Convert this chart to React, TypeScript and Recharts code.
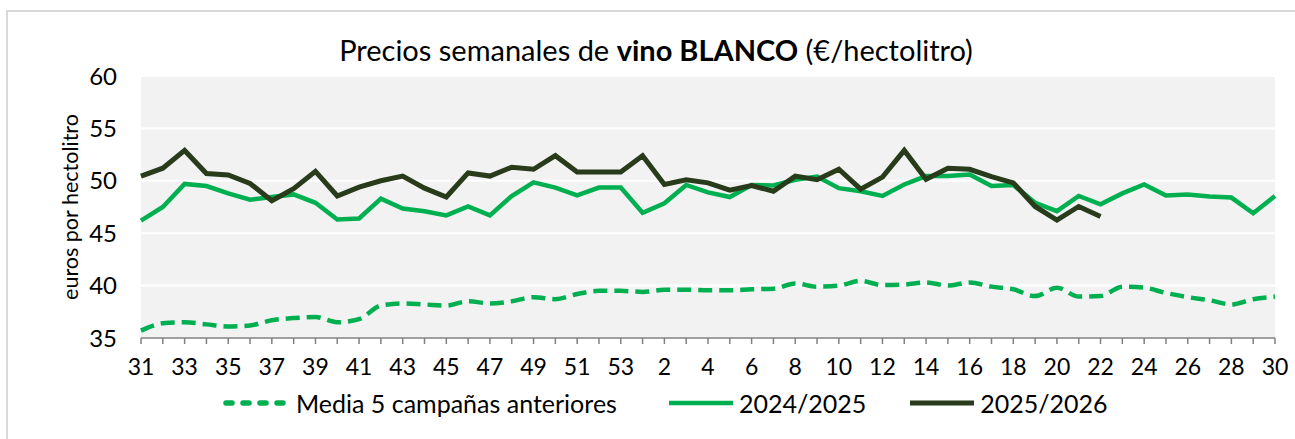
import { LineChart, Line, XAxis, YAxis, CartesianGrid, Legend } from 'recharts'

const weeks = [
  '31', '32', '33', '34', '35', '36', '37', '38', '39', '40', '41', '42', '43', '44', '45', '46', '47', '48', '49', '50', '51', '52', '53',
  '1', '2', '3', '4', '5', '6', '7', '8', '9', '10', '11', '12', '13', '14', '15', '16', '17', '18', '19', '20', '21', '22', '23', '24', '25', '26', '27', '28', '29', '30',
]

const media5 = [
  35.7, 36.4, 36.5, 36.3, 36.1, 36.2, 36.7, 36.9, 37.0, 36.5, 36.8, 38.1, 38.3, 38.2, 38.1, 38.5, 38.3, 38.5, 38.9, 38.7, 39.2, 39.5, 39.5,
  39.4, 39.6, 39.6, 39.55, 39.55, 39.65, 39.7, 40.2, 39.9, 40.0, 40.45, 40.05, 40.1, 40.3, 40.0, 40.3, 39.9, 39.65, 39.0, 39.8, 38.95, 39.0, 39.9, 39.8, 39.3, 38.9, 38.6, 38.2, 38.7, 38.95,
]

const camp2425 = [
  46.2, 47.5, 49.7, 49.5, 48.8, 48.2, 48.45, 48.7, 47.9, 46.3, 46.4, 48.3, 47.35, 47.1, 46.7, 47.55, 46.7, 48.55, 49.85, 49.35, 48.6, 49.35, 49.35,
  46.95, 47.85, 49.6, 48.9, 48.45, 49.6, 49.55, 50.1, 50.4, 49.3, 49.0, 48.55, 49.65, 50.45, 50.45, 50.6, 49.5, 49.6, 47.9, 47.1, 48.55, 47.75, 48.8, 49.65, 48.6, 48.7, 48.5, 48.4, 46.9, 48.55,
]

const camp2526 = [
  50.45, 51.2, 52.9, 50.7, 50.55, 49.75, 48.1, 49.25, 50.9, 48.55, 49.4, 50.0, 50.45, 49.3, 48.45, 50.75, 50.45, 51.3, 51.1, 52.4, 50.85, 50.85, 50.85,
  52.4, 49.65, 50.1, 49.8, 49.1, 49.55, 49.0, 50.45, 50.1, 51.1, 49.2, 50.35, 52.9, 50.15, 51.2, 51.1, 50.4, 49.8, 47.55, 46.25, 47.55, 46.6,
]

const yTicks = [35, 40, 45, 50, 55, 60]

const data = weeks.map((w, i) => ({
  week: w,
  media: media5[i],
  c2425: camp2425[i],
  c2526: i < camp2526.length ? camp2526[i] : null,
}))

const FONT = 'Lato, "Open Sans", sans-serif'
const GREEN = '#00b050'
const DARK = '#283b1a'

const XTick = (props: any) => {
  const { x, y, payload, index } = props
  if (index % 2 !== 0) return null
  return (
    <text x={x} y={y} dy={29} textAnchor="middle" fill="#000" fontSize={23} fontFamily={FONT}>
      {payload.value}
    </text>
  )
}

const legendItems = [
  { label: 'Media 5 campañas anteriores', color: GREEN, dash: '6 11', width: 5.5, gap: 48 },
  { label: '2024/2025', color: GREEN, dash: undefined, width: 4.5, gap: 40 },
  { label: '2025/2026', color: DARK, dash: undefined, width: 5, gap: 0 },
]

const renderLegend = () => (
  <div style={{ display: 'flex', alignItems: 'center', paddingTop: 10, paddingLeft: 222, fontFamily: FONT, fontSize: 25, color: '#000' }}>
    {legendItems.map((it, i) => (
      <div key={i} style={{ display: 'flex', alignItems: 'center', marginRight: it.gap }}>
        <svg width={72} height={12}>
          <line x1={4} y1={6} x2={68} y2={6} stroke={it.color} strokeWidth={it.width} strokeDasharray={it.dash} strokeLinecap={it.dash ? 'round' : 'butt'} />
        </svg>
        <span style={{ marginLeft: 2 }}>{it.label}</span>
      </div>
    ))}
  </div>
)

export default function App() {
  return (
    <div style={{ position: 'absolute', left: 0, top: 0, width: 1295, height: 439, background: '#fff', overflow: 'hidden' }}>
      <div style={{ position: 'absolute', left: 6, top: 10, width: 1289, height: 429, borderTop: '2px solid #d9d9d9', borderLeft: '2px solid #d9d9d9' }} />
      <div style={{ position: 'absolute', left: 0, top: 32, width: 1312, textAlign: 'center', fontFamily: FONT, fontSize: 29, color: '#000', lineHeight: '36px' }}>
        Precios semanales de <b>vino BLANCO</b> (€/hectolitro)
      </div>
      <div style={{ position: 'absolute', left: 0, top: 0 }}>
        <LineChart width={1295} height={439} data={data} margin={{ top: 76, right: 20, bottom: 0, left: 0 }}>
          <CartesianGrid vertical={false} fill="#f2f2f2" stroke="#ffffff" strokeWidth={2} />
          <XAxis
            dataKey="week"
            interval={0}
            height={40}
            tick={<XTick />}
            tickSize={6}
            stroke="#808080"
            axisLine={{ stroke: '#808080', strokeWidth: 1.5 }}
            tickLine={{ stroke: '#808080', strokeWidth: 1.5 }}
          />
          <YAxis
            width={141}
            domain={[35, 60]}
            ticks={yTicks}
            interval={0}
            axisLine={false}
            tickLine={false}
            tickSize={0}
            tickMargin={24}
            tick={{ fill: '#000', fontSize: 24, fontFamily: FONT }}
            label={{
              content: (p: any) => {
                const vb = p.viewBox
                const cx = 70
                const cy = vb.y + vb.height / 2
                return (
                  <text x={cx} y={cy} transform={`rotate(-90 ${cx} ${cy})`} textAnchor="middle" dominantBaseline="central" fontSize={21.5} fontFamily={FONT} fill="#000">
                    euros por hectolitro
                  </text>
                )
              },
            }}
          />
          <Legend verticalAlign="bottom" height={61} content={renderLegend} />
          <Line type="monotone" dataKey="media" stroke={GREEN} strokeWidth={4.5} strokeDasharray="14 7" dot={false} isAnimationActive={false} />
          <Line type="linear" dataKey="c2425" stroke={GREEN} strokeWidth={4.5} dot={false} isAnimationActive={false} />
          <Line type="linear" dataKey="c2526" stroke={DARK} strokeWidth={5} dot={false} isAnimationActive={false} connectNulls={false} />
        </LineChart>
      </div>
    </div>
  )
}
